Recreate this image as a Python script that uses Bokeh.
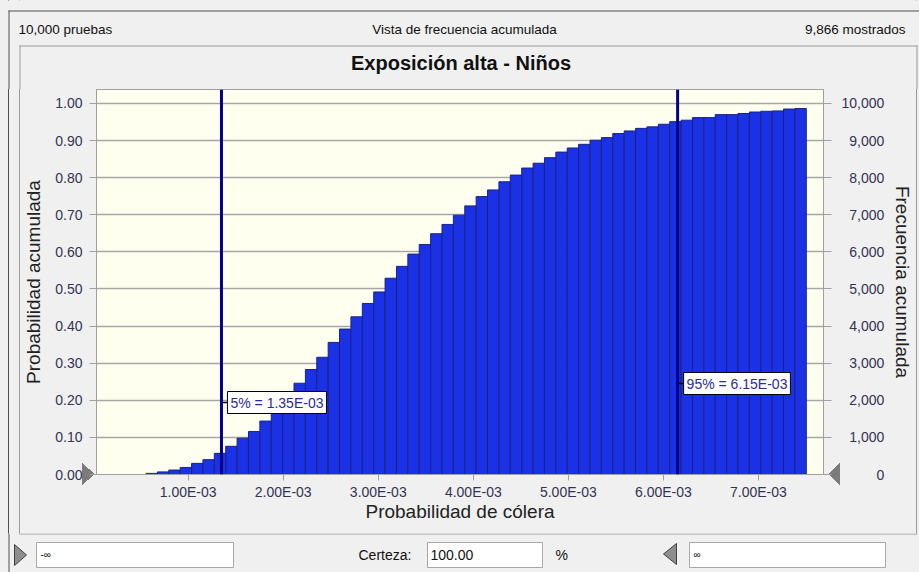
import numpy as np
from bokeh.plotting import figure
from bokeh.layouts import column
from bokeh.models import (Range1d, LinearAxis, FixedTicker, NumeralTickFormatter, CustomJSTickFormatter,
                          Span, Label, ColumnDataSource)
from bokeh.embed import file_html
from bokeh.resources import INLINE

# ---------------- data ----------------
chart_title = "Exposición alta - Niños"
header_left = "10,000 pruebas"
header_center = "Vista de frecuencia acumulada"
header_right = "9,866 mostrados"
x_title = "Probabilidad de cólera"
y_title = "Probabilidad acumulada"
y2_title = "Frecuencia acumulada"
total_trials = 10000

bin_start = 0.556e-3
bin_end = 7.504e-3
cum_prob = [0.003, 0.007, 0.012, 0.019, 0.030, 0.040, 0.057, 0.076, 0.098, 0.116,
            0.144, 0.172, 0.206, 0.246, 0.283, 0.316, 0.356, 0.392, 0.425, 0.461,
            0.492, 0.529, 0.561, 0.594, 0.620, 0.649, 0.674, 0.699, 0.724, 0.749,
            0.767, 0.789, 0.807, 0.826, 0.839, 0.854, 0.869, 0.880, 0.890, 0.901,
            0.908, 0.919, 0.926, 0.933, 0.937, 0.944, 0.951, 0.955, 0.962, 0.962,
            0.970, 0.970, 0.973, 0.977, 0.979, 0.980, 0.985, 0.9866]

p05_name, p05_value = "5%", 1.35e-3
p95_name, p95_value = "95%", 6.15e-3

x_ticks = [0.001, 0.002, 0.003, 0.004, 0.005, 0.006, 0.007]
x_tick_labels = ["1.00E-03", "2.00E-03", "3.00E-03", "4.00E-03", "5.00E-03", "6.00E-03", "7.00E-03"]
y_ticks = [0.0, 0.1, 0.2, 0.3, 0.4, 0.5, 0.6, 0.7, 0.8, 0.9, 1.0]
y2_ticks = [0, 1000, 2000, 3000, 4000, 5000, 6000, 7000, 8000, 9000, 10000]

certainty_label = "Certeza:"
certainty_value = "100.00"
lower_text = "-∞"
upper_text = "∞"

# ---------------- layout constants (page px) ----------------
PAGE_W, PAGE_H = 919, 572
OUT_L, OUT_T = 8, 10                 # outer window border
PAN_L, PAN_R, PAN_T, PAN_B = 19, 917, 45, 533   # chart panel border
F_L, F_R, F_T, F_B = 96, 825, 89, 474           # plot frame
HDR_H = F_T
FTR_T = PAN_B
MAIN_H = FTR_T - HDR_H
X0, X1 = 0.035e-3, 7.685e-3
Y0, Y1 = 0.0, 1.0377

FONT = "Liberation Sans"
BG = "#f0f0f0"
OUT_C = "#505050"
PAN_C = "#9a9a9a"
TRI_C = "#7c7c7c"


def no_align(f):
    try:
        f.frame_align = False
    except Exception:
        pass


def chrome_fig(y_top, y_bot):
    f = figure(width=PAGE_W, height=y_bot - y_top, output_backend="svg", toolbar_location=None,
               x_range=Range1d(0, PAGE_W), y_range=Range1d(y_bot, y_top),
               x_axis_type=None, y_axis_type=None, min_border=0,
               min_border_left=0, min_border_right=0, min_border_top=0, min_border_bottom=0,
               background_fill_color=BG, border_fill_color=BG, outline_line_color=None)
    f.grid.visible = False
    no_align(f)
    return f


def add_text(f, txt, x, y, size="14px", align="left", style="normal", color="#111111"):
    f.add_layout(Label(x=x, y=y, text=txt, text_font=FONT, text_font_size=size,
                       text_font_style=style, text_color=color,
                       text_align=align, text_baseline="middle"))


# ---------------- header (window top, header row, title) ----------------
hdr = chrome_fig(0, HDR_H)
hdr.segment(x0=[OUT_L, OUT_L + 0.5], y0=[OUT_T + 0.5, OUT_T], x1=[PAGE_W, OUT_L + 0.5], y1=[OUT_T + 0.5, HDR_H],
            line_color=OUT_C, line_width=1)
hdr.segment(x0=[PAN_L, PAN_L + 0.5, PAN_R - 0.5], y0=[PAN_T + 0.5, PAN_T, PAN_T],
            x1=[PAN_R, PAN_L + 0.5, PAN_R - 0.5], y1=[PAN_T + 0.5, HDR_H, HDR_H],
            line_color=PAN_C, line_width=1)
add_text(hdr, header_left, 18, 29, size="13.5px")
add_text(hdr, header_center, 464, 29, size="13.5px", align="center")
add_text(hdr, header_right, 905, 29, size="13.5px", align="right")
add_text(hdr, chart_title, (F_L + F_R) / 2, 62, size="20px", align="center", style="bold")

# ---------------- main chart ----------------
edges = np.linspace(bin_start, bin_end, len(cum_prob) + 1)
src = ColumnDataSource(dict(left=edges[:-1], right=edges[1:], top=cum_prob,
                            bottom=[0.0] * len(cum_prob)))

main_l, main_r = PAN_L + 1, PAN_R - 1
p = figure(width=main_r - main_l, height=MAIN_H, output_backend="svg", toolbar_location=None,
           title=None, x_range=Range1d(X0, X1), y_range=Range1d(Y0, Y1),
           min_border_left=F_L - main_l, min_border_right=main_r - F_R,
           min_border_top=0, min_border_bottom=FTR_T - F_B,
           background_fill_color="#fffff0", border_fill_color=BG, border_fill_alpha=0,
           outline_line_color="#a0a0a0", margin=(0, 0, 0, main_l))
no_align(p)

p.xgrid.visible = False
p.ygrid.ticker = FixedTicker(ticks=y_ticks)
p.ygrid.grid_line_color = "#a6a6a6"
p.ygrid.grid_line_width = 1.5

p.quad(left="left", right="right", top="top", bottom="bottom", source=src,
       fill_color="#1b31e6", line_color="#1a2380", line_width=1)

# left axis
yl = p.yaxis[0]
yl.ticker = FixedTicker(ticks=y_ticks)
yl.formatter = NumeralTickFormatter(format="0.00")
yl.axis_label = y_title
yl.major_tick_out = 7
yl.major_label_standoff = 7
yl.axis_label_standoff = 8

# right axis (frequency)
p.extra_y_ranges = {"freq": Range1d(Y0 * total_trials, Y1 * total_trials)}
pad_code = """
const s = Math.round(tick).toString().replace(/\\B(?=(\\d{3})+(?!\\d))/g, ",");
const full = "10,000";
let pad = "";
for (let i = s.length; i < full.length; i++) {
  pad += (full[i - s.length] === "," ? "\\u2008" : "\\u2007");
}
return pad + s;
"""
yr = LinearAxis(y_range_name="freq", ticker=FixedTicker(ticks=y2_ticks),
                formatter=CustomJSTickFormatter(code=pad_code), axis_label=y2_title)
yr.major_tick_out = 8
yr.major_label_standoff = 10
yr.axis_label_standoff = 5
p.add_layout(yr, "right")

# bottom axis
xa = p.xaxis[0]
xa.ticker = FixedTicker(ticks=x_ticks)
xa.formatter = CustomJSTickFormatter(args=dict(xt=x_ticks, xl=x_tick_labels), code="""
let best = 0;
for (let i = 1; i < xt.length; i++) {
  if (Math.abs(xt[i] - tick) < Math.abs(xt[best] - tick)) best = i;
}
return xl[best];
""")
xa.axis_label = x_title
xa.major_tick_out = 6
xa.major_label_standoff = 3
xa.axis_label_standoff = -2

for ax in (yl, yr, xa):
    ax.axis_line_color = "#a0a0a0"
    ax.major_tick_line_color = "#a0a0a0"
    ax.major_tick_in = 0
    ax.minor_tick_line_color = None
    ax.major_label_text_font = FONT
    ax.major_label_text_font_size = "14px"
    ax.major_label_text_color = "#333355"
    ax.axis_label_text_font = FONT
    ax.axis_label_text_font_size = "19px"
    ax.axis_label_text_font_style = "normal"
    ax.axis_label_text_color = "#222222"


def page_y_to_data(py):
    return Y0 + (F_B - py) / (F_B - F_T) * (Y1 - Y0)


px_w = (X1 - X0) / (F_R - F_L)
for name, val, py in ((p05_name, p05_value, 402), (p95_name, p95_value, 383)):
    p.add_layout(Span(location=val, dimension="height", line_color="#00008b", line_width=3))
    yv = page_y_to_data(py)
    p.segment(x0=[val], y0=[yv], x1=[val + 7 * px_w], y1=[yv], line_color="black", line_width=1.5)
    p.add_layout(Label(x=val, y=yv, x_offset=6, text=f"{name} = {val:.2E}",
                       text_font=FONT, text_font_size="14px", text_color="#2a2aa0",
                       text_baseline="middle", text_align="left",
                       background_fill_color="white", border_line_color="black",
                       border_line_width=1, padding=3))

# ---------------- footer (certainty controls) ----------------
ftr = chrome_fig(FTR_T, PAGE_H)
ftr.segment(x0=[OUT_L + 0.5], y0=[FTR_T], x1=[OUT_L + 0.5], y1=[PAGE_H], line_color=OUT_C, line_width=1)
ftr.segment(x0=[PAN_L], y0=[FTR_T + 0.5], x1=[PAN_R], y1=[FTR_T + 0.5], line_color=PAN_C, line_width=1)
ftr.quad(left=[36, 427, 689], right=[233, 542, 885], top=[542, 542, 542], bottom=[567, 567, 567],
         fill_color="white", line_color="#a8a8a8", line_width=1)
ftr.patches(xs=[[14, 26, 14], [676, 663, 676]], ys=[[544, 554.5, 565], [543, 553.5, 564]],
            fill_color="#8e8e8e", line_color="#404040", line_width=1)
add_text(ftr, lower_text, 40, 554, size="10px")
add_text(ftr, certainty_label, 358, 554, size="14px")
add_text(ftr, certainty_value, 430, 554, size="14px")
add_text(ftr, "%", 555, 554, size="14px")
add_text(ftr, upper_text, 693, 554, size="10px")


# ---------------- page background: border lines and axis-end markers ----------------
def vline(x, c):
    return f"linear-gradient(to right, transparent {x}px, {c} {x}px, {c} {x + 1}px, transparent {x + 1}px)"


def half_tri(direction, x, y, w, h):
    return (f"linear-gradient({direction}, {TRI_C} 50%, transparent 50%) "
            f"{x}px {y}px / {w}px {h}px no-repeat")


layers = [
    half_tri("to top right", 82, 463, 13, 11),      # left marker, upper half
    half_tri("to bottom right", 82, 474, 13, 11),   # left marker, lower half
    half_tri("to top left", 828, 463, 12, 11),      # right marker, upper half
    half_tri("to bottom left", 828, 474, 12, 11),   # right marker, lower half
    vline(OUT_L, OUT_C), vline(PAN_L, PAN_C), vline(PAN_R - 1, PAN_C), BG,
]
layout = column(hdr, p, ftr, spacing=0, styles={"background": ", ".join(layers)})

open("out.html", "w").write(file_html(layout, INLINE))
